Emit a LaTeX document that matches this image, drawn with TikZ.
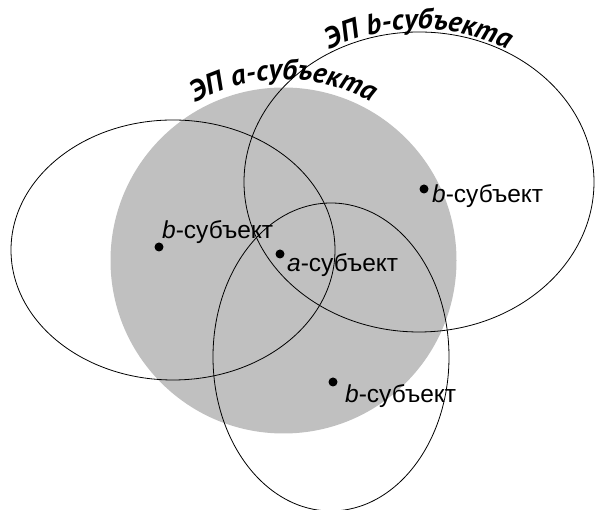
\documentclass[tikz,border=0pt]{standalone}
\usepackage{fontspec}
\setmainfont{Liberation Sans}
\newfontfamily\titlefont{PT Sans}
\usetikzlibrary{decorations.text}
\definecolor{epgray}{RGB}{192,192,192}
\begin{document}
\begin{tikzpicture}[x=1pt,y=1pt,
  subj/.style={circle, fill=black, inner sep=0pt, minimum size=9pt},
  lbl/.style={anchor=base west, inner sep=0pt, font=\fontsize{24.5}{28}\selectfont},
  ep/.style={draw=black, line width=0.8pt},
]
\useasboundingbox (0,0) rectangle (595,510);
% field of a-subject
\fill[epgray] (283.5,249.5) circle[radius=173];
% fields of b-subjects
\draw[ep] (173,260) ellipse[x radius=162, y radius=130];
\draw[ep] (419,328) ellipse[x radius=175, y radius=150];
\draw[ep] (331,153) ellipse[x radius=118, y radius=154];
% subjects
\node[subj] (a) at (280,256) {};
\node[lbl] (alab) at (287,238) {\textit{a}-субъект};
\node[subj] (bl) at (159,263) {};
\node[lbl] (bllab) at (162,271) {\textit{b}-субъект};
\node[subj] (bur) at (424,321) {};
\node[lbl] (burlab) at (432,307) {\textit{b}-субъект};
\node[subj] (bb) at (333,128) {};
\node[lbl] (bblab) at (345,107) {\textit{b}-субъект};
% curved titles
\path[decorate, decoration={text along path, text align=center,
  text={|\titlefont\bfseries\itshape\fontsize{29}{33}\selectfont|ЭП a-субъекта}}]
  (283.5,249.5) ++(150:181) arc[start angle=150, end angle=30, radius=181];
\path[decorate, decoration={text along path, text align=center,
  text={|\titlefont\bfseries\itshape\fontsize{29}{33}\selectfont|ЭП b-субъекта}}]
  (419,328) ++({178*cos(140)},{153*sin(140)}) arc[start angle=140, end angle=40, x radius=178, y radius=153];
\end{tikzpicture}
\end{document}
